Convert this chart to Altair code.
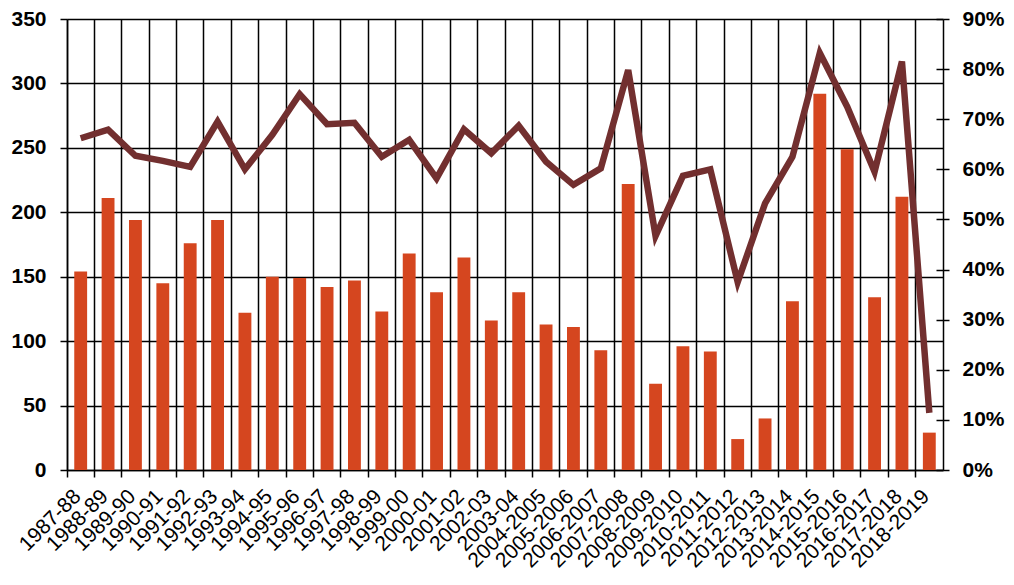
import altair as alt
import pandas as pd

years = ["1987-88", "1988-89", "1989-90", "1990-91", "1991-92", "1992-93", "1993-94",
         "1994-95", "1995-96", "1996-97", "1997-98", "1998-99", "1999-00", "2000-01",
         "2001-02", "2002-03", "2003-04", "2004-2005", "2005-2006", "2006-2007",
         "2007-2008", "2008-2009", "2009-2010", "2010-2011", "2011-2012", "2012-2013",
         "2013-2014", "2014-2015", "2015-2016", "2016-2017", "2017-2018", "2018-2019"]
counts = [154, 211, 194, 145, 176, 194, 122, 150, 149, 142, 147, 123, 168, 138,
          165, 116, 138, 113, 111, 93, 222, 67, 96, 92, 24, 40, 131, 292, 249, 134,
          212, 29]
share = [66.2, 67.9, 62.7, 61.7, 60.5, 69.5, 60.0, 66.9, 75.0, 69.0, 69.3, 62.5,
         65.9, 58.2, 68.0, 63.2, 68.7, 61.5, 56.9, 60.2, 79.8, 46.7, 58.7, 60.0,
         37.5, 53.2, 62.5, 83.2, 72.5, 59.5, 81.5, 11.4]

df = pd.DataFrame({"year": years, "count": counts, "share": share})

W, H = 876, 451
FONT = "Liberation Sans"

x = alt.X("year:N", sort=years, title=None,
          scale=alt.Scale(paddingInner=0, paddingOuter=0),
          axis=alt.Axis(bandPosition=0, grid=True,
                        gridColor="black", gridWidth=1.5, gridOpacity=1,
                        tickColor="black", tickSize=7, tickWidth=1.5,
                        domainColor="black", domainWidth=1.5,
                        labelAngle=-45, labelAlign="right", labelBaseline="middle",
                        labelFont=FONT, labelFontSize=21, labelOffset=-3,
                        labelColor="black", labelPadding=16))

bars = alt.Chart(df).mark_bar(color="#D5461F", width=alt.RelativeBandSize(0.47)).encode(
    x=x,
    y=alt.Y("count:Q", title=None,
            scale=alt.Scale(domain=[0, 350], nice=False),
            axis=alt.Axis(values=list(range(0, 351, 50)), grid=True, gridColor="black",
                          gridWidth=1.5, gridOpacity=1, tickColor="black", tickSize=7,
                          tickWidth=1.5, domainColor="black", domainWidth=1.5,
                          labelFont=FONT, labelFontSize=21, labelFontWeight="bold",
                          labelColor="black", labelPadding=14)),
)

line = alt.Chart(df).mark_line(color="#722F2F", strokeWidth=6.5).encode(
    x=x,
    y=alt.Y("share:Q", title=None,
            scale=alt.Scale(domain=[0, 90], nice=False),
            axis=alt.Axis(orient="right", values=list(range(0, 91, 10)), grid=False,
                          labelExpr="datum.value + '%'", tickColor="black", tickSize=6,
                          tickWidth=1.5, domainColor="black", domainWidth=1.5,
                          labelFont=FONT, labelFontSize=21, labelFontWeight="bold",
                          labelColor="black", labelPadding=13)),
)

# inner half of the right-axis ticks (ticks cross the axis in the reference)
inner_ticks = alt.Chart(df).mark_line(opacity=0).encode(
    x=x,
    y=alt.Y("share:Q", title=None,
            scale=alt.Scale(domain=[0, 90], nice=False),
            axis=alt.Axis(orient="left", offset=-W, values=list(range(0, 91, 10)),
                          grid=False, labels=False, domain=False, tickColor="black",
                          tickSize=7, tickWidth=1.5)),
)

chart = alt.layer(bars, line, inner_ticks).resolve_scale(y="independent").properties(
    width=W, height=H,
    autosize=alt.AutoSizeParams(type="none"),
    padding={"left": 59, "top": 11, "right": 63, "bottom": 106},
).configure_view(stroke=None)

chart.save("out.html", embed_options={"renderer": "svg", "actions": False})
